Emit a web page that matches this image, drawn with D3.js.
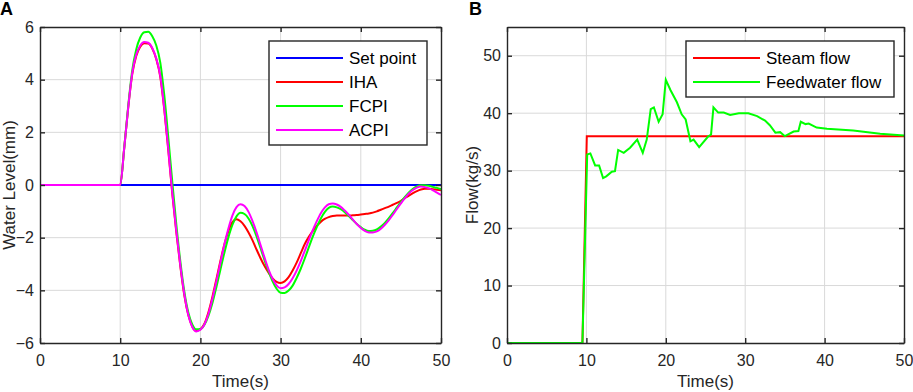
<!DOCTYPE html>
<html>
<head>
<meta charset="utf-8">
<title>Water level and flow</title>
<script src="https://d3js.org/d3.v7.min.js"></script>
<style>
  body { margin: 0; background: #fff; }
  svg { display: block; font-family: "Liberation Sans", Arial, sans-serif; }
</style>
</head>
<body>
<script>
// ---- panel A data: water level (mm) ----
const timeA = [0,
  10, 10.5, 11, 11.5, 12, 12.5, 13, 13.5, 14, 14.5, 15, 15.5, 16, 16.5, 17, 17.5, 18, 18.5, 19, 19.5, 20,
  20.5, 21, 21.5, 22, 22.5, 23, 23.5, 24, 24.5, 25, 25.5, 26, 26.5, 27, 27.5, 28, 28.5, 29, 29.5, 30,
  30.5, 31, 31.5, 32, 32.5, 33, 33.5, 34, 34.5, 35, 35.5, 36, 36.5, 37, 37.5, 38, 38.5, 39, 39.5, 40,
  40.5, 41, 41.5, 42, 42.5, 43, 43.5, 44, 44.5, 45, 45.5, 46, 46.5, 47, 47.5, 48, 48.5, 49, 49.5, 50];
const setPointTime = [0, 50];
const setPoint = [0, 0];
const iha = [0,
  0, 1.4, 2.95, 4.2, 4.9, 5.25, 5.38, 5.37, 5.18, 4.78, 4.1, 2.85, 1.3, -0.35, -1.8, -3.1, -4.2, -4.95, -5.38, -5.54, -5.48,
  -5.27, -4.83, -4.24, -3.57, -2.88, -2.24, -1.74, -1.41, -1.3, -1.38, -1.55, -1.8, -2.1, -2.45, -2.78, -3.08, -3.33, -3.55, -3.68, -3.72,
  -3.66, -3.5, -3.25, -2.95, -2.6, -2.25, -1.98, -1.75, -1.55, -1.4, -1.29, -1.22, -1.18, -1.16, -1.16, -1.16, -1.16, -1.15, -1.14, -1.12,
  -1.1, -1.08, -1.05, -1.0, -0.94, -0.88, -0.82, -0.75, -0.68, -0.6, -0.5, -0.4, -0.31, -0.23, -0.17, -0.14, -0.14, -0.16, -0.18, -0.2];
const fcpi = [0,
  0, 1.4, 3.0, 4.35, 5.15, 5.6, 5.8, 5.82, 5.65, 5.3, 4.65, 3.4, 1.8, 0.1, -1.5, -2.9, -4.05, -4.85, -5.3, -5.48, -5.47,
  -5.31, -4.97, -4.48, -3.87, -3.21, -2.56, -1.98, -1.51, -1.19, -1.05, -1.1, -1.27, -1.56, -1.95, -2.4, -2.86, -3.28, -3.66, -3.94, -4.09,
  -4.1, -4.01, -3.82, -3.53, -3.19, -2.8, -2.38, -1.97, -1.61, -1.28, -1.03, -0.87, -0.82, -0.85, -0.92, -1.03, -1.18, -1.33, -1.48, -1.6,
  -1.7, -1.75, -1.74, -1.69, -1.58, -1.44, -1.26, -1.06, -0.85, -0.64, -0.45, -0.28, -0.14, -0.05, -0.01, -0.01, -0.03, -0.07, -0.11, -0.16];
const acpi = [0,
  0, 1.4, 2.95, 4.25, 4.95, 5.3, 5.43, 5.4, 5.2, 4.8, 4.15, 2.9, 1.35, -0.3, -1.75, -3.05, -4.15, -4.95, -5.4, -5.56, -5.5,
  -5.3, -4.9, -4.32, -3.65, -2.94, -2.25, -1.64, -1.15, -0.84, -0.73, -0.8, -1.02, -1.37, -1.8, -2.28, -2.76, -3.21, -3.56, -3.81, -3.92,
  -3.89, -3.76, -3.54, -3.25, -2.9, -2.51, -2.11, -1.72, -1.38, -1.08, -0.86, -0.73, -0.7, -0.74, -0.83, -0.97, -1.13, -1.31, -1.48, -1.63,
  -1.74, -1.8, -1.8, -1.76, -1.66, -1.51, -1.33, -1.13, -0.91, -0.7, -0.5, -0.32, -0.19, -0.1, -0.06, -0.08, -0.13, -0.2, -0.29, -0.38];

// ---- panel B data: flow (kg/s) ----
const steamTime = [0, 9.5, 10.05, 50];
const steamFlow = [0, 0, 36, 36];
const feedTime = [0, 9.5, 10.1, 10.5, 11.1, 11.6, 12.1, 12.5, 13.2, 13.6, 14.0, 14.7, 15.5, 16.4, 17.1, 17.6,
  18.1, 18.5, 19.1, 19.6, 20.0, 20.6, 21.4, 22.0, 22.5, 23.1, 23.5, 24.2, 25.3, 25.7, 26.0, 26.6, 27.3,
  28.1, 29.2, 30.4, 31.5, 32.5, 33.1, 33.8, 34.4, 35.0, 36.1, 36.7, 37.0, 37.6, 38.0, 39.0, 40.3, 43.6, 47.0, 50];
const feedFlow = [0, 0, 32.8, 33.0, 30.9, 30.9, 28.7, 29.0, 29.8, 29.9, 33.6, 33.1, 34.0, 35.4, 33.1, 35.4,
  40.7, 41.0, 38.5, 39.8, 45.8, 44.0, 41.9, 39.8, 38.9, 35.1, 35.4, 34.1, 35.9, 36.3, 41.0, 40.1, 40.1,
  39.7, 40.0, 40.0, 39.5, 38.7, 37.9, 36.6, 36.7, 36.0, 36.8, 36.9, 38.5, 38.1, 38.2, 37.5, 37.3, 37.0, 36.4, 36.1];

const xTicks = [0, 10, 20, 30, 40, 50];
const yTicksA = [-6, -4, -2, 0, 2, 4, 6];
const yTicksB = [0, 10, 20, 30, 40, 50];

const textColor = "#262626";
const width = 913, height = 392;

const svg = d3.select("body").append("svg")
    .attr("width", width)
    .attr("height", height);

function zip(t, v) { return t.map((d, i) => ({ t: d, v: v[i] })); }

// one MATLAB-style axes box: grid, inward ticks on all four sides, labels
function drawPanel(opt) {
  const { left, top, w, h, xDomain, yDomain, yTicks, letter, yLabel } = opt;
  const x = d3.scaleLinear().domain(xDomain).range([left, left + w]);
  const y = d3.scaleLinear().domain(yDomain).range([top + h, top]);
  const g = svg.append("g");

  // grid
  g.append("g").selectAll("line").data(xTicks.slice(1, -1)).join("line")
      .attr("x1", d => x(d)).attr("x2", d => x(d))
      .attr("y1", top).attr("y2", top + h)
      .attr("stroke", "#d9d9d9").attr("stroke-width", 1);
  g.append("g").selectAll("line").data(yTicks.filter(d => y(d) > top + 1 && y(d) < top + h - 1)).join("line")
      .attr("x1", left).attr("x2", left + w)
      .attr("y1", d => y(d)).attr("y2", d => y(d))
      .attr("stroke", "#d9d9d9").attr("stroke-width", 1);

  const lines = g.append("g");

  // axes
  const bottom = g.append("g").attr("transform", `translate(0,${top + h})`)
      .call(d3.axisBottom(x).tickValues(xTicks).tickSizeInner(-5).tickSizeOuter(0).tickPadding(12));
  const topAx = g.append("g").attr("transform", `translate(0,${top})`)
      .call(d3.axisTop(x).tickValues(xTicks).tickSizeInner(-5).tickSizeOuter(0).tickFormat(""));
  const leftAx = g.append("g").attr("transform", `translate(${left},0)`)
      .call(d3.axisLeft(y).tickValues(yTicks).tickSizeInner(-5).tickSizeOuter(0).tickPadding(6));
  const rightAx = g.append("g").attr("transform", `translate(${left + w},0)`)
      .call(d3.axisRight(y).tickValues(yTicks).tickSizeInner(-5).tickSizeOuter(0).tickFormat(""));
  [bottom, topAx, leftAx, rightAx].forEach(a => {
    a.select(".domain").attr("stroke", textColor).attr("stroke-width", 1.4);
    a.selectAll(".tick line").attr("stroke", textColor).attr("stroke-width", 1.4);
    a.selectAll("text").attr("fill", textColor).style("font-size", "16px")
        .style("font-family", '"Liberation Sans", Arial, sans-serif');
  });

  g.append("text").attr("x", left + w / 2).attr("y", 387)
      .attr("text-anchor", "middle").attr("fill", textColor)
      .style("font-size", "17px").text("Time(s)");
  g.append("text")
      .attr("transform", `translate(${opt.yLabelX},${top + h / 2}) rotate(-90)`)
      .attr("text-anchor", "middle").attr("fill", textColor)
      .style("font-size", "17px").text(yLabel);
  g.append("text").attr("x", opt.letterX).attr("y", 15)
      .attr("fill", "#000").style("font-size", "18px").style("font-weight", "bold")
      .text(letter);

  return { x, y, lines };
}

function drawLegend(x0, y0, w, entries) {
  const rowH = 24;
  const g = svg.append("g");
  g.append("rect").attr("x", x0).attr("y", y0).attr("width", w)
      .attr("height", entries.length * rowH + 8)
      .attr("fill", "#fff").attr("stroke", textColor).attr("stroke-width", 1.4);
  const row = g.selectAll("g.row").data(entries).join("g")
      .attr("transform", (d, i) => `translate(${x0},${y0 + 17 + i * rowH})`);
  row.append("line").attr("x1", 7).attr("x2", 74).attr("y1", 0).attr("y2", 0)
      .attr("stroke", d => d.color).attr("stroke-width", 2);
  row.append("text").attr("x", 80).attr("y", 6).attr("fill", "#000")
      .style("font-size", "17px").text(d => d.name);
}

// ---- panel A ----
const A = drawPanel({ left: 40, top: 27, w: 401, h: 316, xDomain: [0, 50], yDomain: [-6, 6],
  yTicks: yTicksA, letter: "A", letterX: 0, yLabel: "Water Level(mm)", yLabelX: 14.5 });
const lineA = d3.line().x(d => A.x(d.t)).y(d => A.y(d.v)).curve(d3.curveMonotoneX);
const seriesA = [
  { name: "Set point", color: "#0000ff", data: zip(setPointTime, setPoint) },
  { name: "IHA", color: "#ff0000", data: zip(timeA, iha) },
  { name: "FCPI", color: "#00ff00", data: zip(timeA, fcpi) },
  { name: "ACPI", color: "#ff00ff", data: zip(timeA, acpi) },
];
A.lines.selectAll("path").data(seriesA).join("path")
    .attr("d", d => lineA(d.data))
    .attr("fill", "none").attr("stroke", d => d.color).attr("stroke-width", 2);
drawLegend(269, 41, 158, seriesA);

// ---- panel B ----
const B = drawPanel({ left: 507, top: 27, w: 397, h: 316, xDomain: [0, 50], yDomain: [0, 55],
  yTicks: yTicksB, letter: "B", letterX: 469, yLabel: "Flow(kg/s)", yLabelX: 478 });
const lineB = d3.line().x(d => B.x(d.t)).y(d => B.y(d.v));
const seriesB = [
  { name: "Steam flow", color: "#ff0000", data: zip(steamTime, steamFlow) },
  { name: "Feedwater flow", color: "#00ff00", data: zip(feedTime, feedFlow) },
];
B.lines.selectAll("path").data(seriesB).join("path")
    .attr("d", d => lineB(d.data))
    .attr("fill", "none").attr("stroke", d => d.color).attr("stroke-width", 2);
drawLegend(686, 41, 208, seriesB);
</script>
</body>
</html>
